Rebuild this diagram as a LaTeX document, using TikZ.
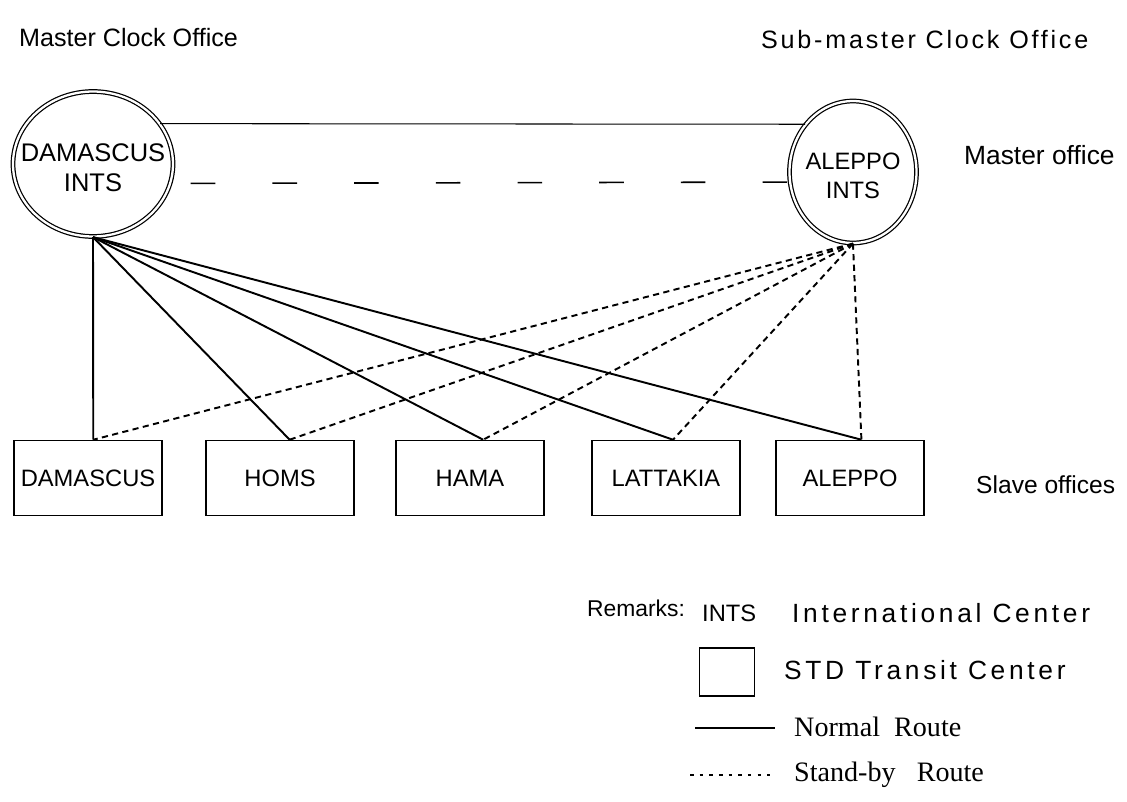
\documentclass[tikz,border=0pt]{standalone}
\usepackage{fontspec}
\setmainfont{Liberation Sans}
\newfontfamily\routefont{Liberation Serif}
\usetikzlibrary{shapes.geometric, positioning}

\begin{document}
\begin{tikzpicture}[x=0.02cm, y=-0.02cm, font=\fontsize{13.5}{16.5}\selectfont,
	Office/.style={ellipse, draw, double, double distance=1.3pt, line width=0.7pt, inner sep=0pt},
	Slave/.style={rectangle, draw, line width=0.9pt, minimum width=2.96cm, minimum height=1.5cm, inner sep=0pt},
	Normal/.style={line width=1.1pt},
	Standby/.style={line width=1.1pt, dash pattern=on 3.5pt off 2.5pt},
	TopDash/.style={line width=0.9pt, dash pattern=on 14pt off 32.5pt},
	Wide/.style={font=\fontsize{15}{17}\selectfont\addfontfeature{LetterSpace=14}}]
\useasboundingbox (0,0) rectangle (1127,802);
% titles
\node[anchor=west, font=\fontsize{14.3}{17}\selectfont] (mco) at (13,38) {Master Clock Office};
\node[anchor=west, font=\fontsize{14.3}{17}\selectfont\addfontfeature{LetterSpace=11}] (smco) at (755,40) {Sub-master Clock Office};
% master offices
\node[Office, minimum width=3.2cm, minimum height=2.9cm] (dmi) at (93,164) {};
\node[align=center, font=\fontsize{14.5}{17}\selectfont] (dmt) at (93,168) {DAMASCUS\\INTS};
\node[Office, minimum width=2.54cm, minimum height=2.84cm] (alp) at (853,172) {};
\node[align=center] (alt) at (853,176) {ALEPPO\\INTS};
\node[anchor=west, font=\fontsize{15}{17}\selectfont] (mof) at (958,155) {Master office};
\draw[line width=0.6pt] (dmi.31) -- (alp.135);
\draw[TopDash] ([xshift=0.4cm]dmi.-14) -- (alp.189);
% slave offices
\node[Slave] (dms) at (88,478) {DAMASCUS};
\node[Slave] (hms) at (280,478) {HOMS};
\node[Slave] (hma) at (470,478) {HAMA};
\node[Slave] (ltk) at (666,478) {LATTAKIA};
\node[Slave] (alb) at (850,478) {ALEPPO};
\node[anchor=west, font=\fontsize{14}{16}\selectfont] (sof) at (970,485) {Slave offices};
\foreach \b/\o in {dms/3pt, hms/5.5pt, hma/7.5pt, ltk/4pt, alb/6.5pt} {
	\coordinate (\b-top) at ([xshift=\o]\b.north);
	\draw[Normal] (dmi.south) -- (\b-top);
	\draw[Standby] (alp.south) -- (\b-top);
}
% remarks
\node[anchor=west, font=\fontsize{13}{15}\selectfont] (rmk) at (581,608) {Remarks:};
\node[anchor=west] (lints) at (696,613) {INTS};
\node[anchor=west, Wide] (lintc) at (786,613) {International Center};
\node[draw, line width=0.9pt, minimum width=1.1cm, minimum height=0.95cm] (lbox) at (727,672) {};
\node[anchor=west, Wide] (lstd) at (778,670) {STD Transit Center};
\coordinate (nA) at (695,728);
\coordinate (nB) at (775,728);
\draw[line width=0.7pt] (nA) -- (nB);
\node[anchor=west, font=\routefont\fontsize{16}{18}\selectfont] (lnorm) at (788,727) {Normal\ \ Route};
\coordinate (sA) at (690,775);
\coordinate (sB) at (770,775);
\draw[line width=1.1pt, dash pattern=on 2pt off 3.5pt] (sA) -- (sB);
\node[anchor=west, font=\routefont\fontsize{16}{18}\selectfont] (lstand) at (788,775) {Stand-by\ \ \ Route};
\end{tikzpicture}
\end{document}
